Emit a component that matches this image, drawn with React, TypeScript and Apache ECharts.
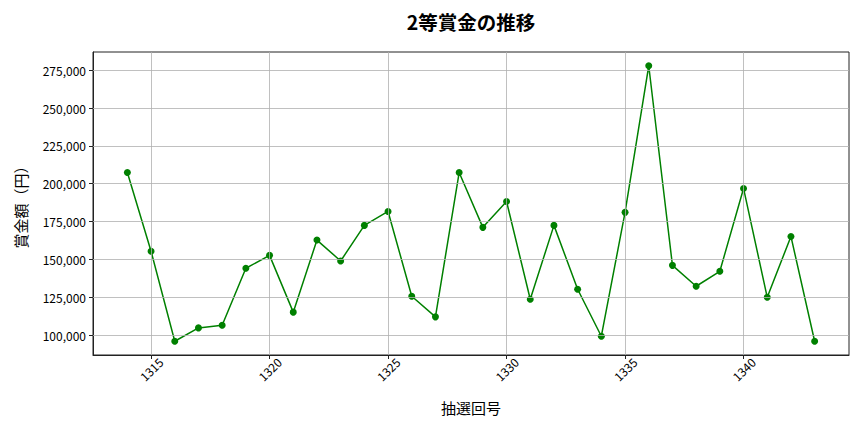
import { useEffect, useRef } from 'react';
import * as echarts from 'echarts';

const DRAWS = [
  1314, 1315, 1316, 1317, 1318, 1319, 1320, 1321, 1322, 1323,
  1324, 1325, 1326, 1327, 1328, 1329, 1330, 1331, 1332, 1333,
  1334, 1335, 1336, 1337, 1338, 1339, 1340, 1341, 1342, 1343,
];
const PRIZES = [
  207400, 155400, 96000, 104800, 106600, 144200, 152700, 115200, 162800, 149000,
  172500, 181700, 125700, 112100, 207400, 171200, 188300, 123700, 172500, 130300,
  99300, 181100, 277900, 146100, 132300, 142200, 196900, 125000, 165200, 96000,
];
const X_TICKS = [1315, 1320, 1325, 1330, 1335, 1340];
const Y_TICKS = [100000, 125000, 150000, 175000, 200000, 225000, 250000, 275000];

const FONT = '"Noto Sans CJK JP", "Noto Sans", sans-serif';
const LINE_COLOR = '#008000';
const GRID_COLOR = '#b0b0b0';
const AXIS_COLOR = '#222';

export default function App() {
  const ref = useRef<HTMLDivElement>(null);

  useEffect(() => {
    document.body.style.margin = '0';
    if (!ref.current) return;
    const chart = echarts.init(ref.current, undefined, { renderer: 'svg' });

    // matplotlib-style 5% padding around data
    const xMin = DRAWS[0] - (DRAWS[DRAWS.length - 1] - DRAWS[0]) * 0.05;
    const xMax = DRAWS[DRAWS.length - 1] + (DRAWS[DRAWS.length - 1] - DRAWS[0]) * 0.05;
    const lo = Math.min(...PRIZES);
    const hi = Math.max(...PRIZES);
    const yMin = lo - (hi - lo) * 0.05;
    const yMax = hi + (hi - lo) * 0.05;

    chart.setOption({
      animation: false,
      backgroundColor: '#fff',
      textStyle: { fontFamily: FONT },
      title: {
        text: '2等賞金の推移',
        left: 466,
        textAlign: 'center',
        top: 7,
        textStyle: { fontFamily: FONT, fontSize: 19.5, fontWeight: 'bold', color: '#000' },
      },
      grid: {
        left: 93, right: 15, top: 52, bottom: 77,
        show: true, borderColor: AXIS_COLOR, borderWidth: 1,
        outerBoundsMode: 'none',
      },
      xAxis: {
        type: 'value',
        min: xMin,
        max: xMax,
        name: '抽選回号',
        nameLocation: 'middle',
        nameGap: 45,
        nameTextStyle: { fontFamily: FONT, fontSize: 15, color: '#000' },
        axisLine: { show: true, onZero: false, lineStyle: { color: AXIS_COLOR } },
        axisTick: { show: true, inside: false, length: 4, customValues: X_TICKS, lineStyle: { color: AXIS_COLOR } },
        axisLabel: {
          customValues: X_TICKS,
          rotate: 45,
          align: 'center',
          verticalAlign: 'middle',
          margin: 14,
          fontFamily: FONT,
          fontSize: 12,
          color: '#000',
          formatter: (v: number) => String(v),
        },
        splitLine: { show: false },
      },
      yAxis: {
        type: 'value',
        min: yMin,
        max: yMax,
        name: '賞金額（円）',
        nameLocation: 'middle',
        nameGap: 65,
        nameRotate: 90,
        nameTextStyle: { fontFamily: FONT, fontSize: 15, color: '#000' },
        axisLine: { show: true, lineStyle: { color: AXIS_COLOR } },
        axisTick: { show: true, inside: false, length: 4, customValues: Y_TICKS, lineStyle: { color: AXIS_COLOR } },
        axisLabel: {
          customValues: Y_TICKS,
          margin: 7,
          fontFamily: FONT,
          fontSize: 12,
          color: '#000',
          formatter: (v: number) => v.toLocaleString('en-US'),
        },
        splitLine: { show: false },
      },
      series: [
        {
          type: 'line',
          data: [],
          z: 1,
          silent: true,
          markLine: {
            silent: true,
            symbol: 'none',
            label: { show: false },
            lineStyle: { color: GRID_COLOR, type: 'solid', width: 0.8 },
            data: [
              ...X_TICKS.map(v => ({ xAxis: v })),
              ...Y_TICKS.map(v => ({ yAxis: v })),
            ],
          },
        },
        {
          type: 'line',
          z: 3,
          data: DRAWS.map((d, i) => [d, PRIZES[i]]),
          symbol: 'circle',
          symbolSize: 7,
          lineStyle: { color: LINE_COLOR, width: 1.5 },
          itemStyle: { color: LINE_COLOR },
        },
      ],
    });

    return () => chart.dispose();
  }, []);

  return <div ref={ref} style={{ width: 864, height: 432 }} />;
}
